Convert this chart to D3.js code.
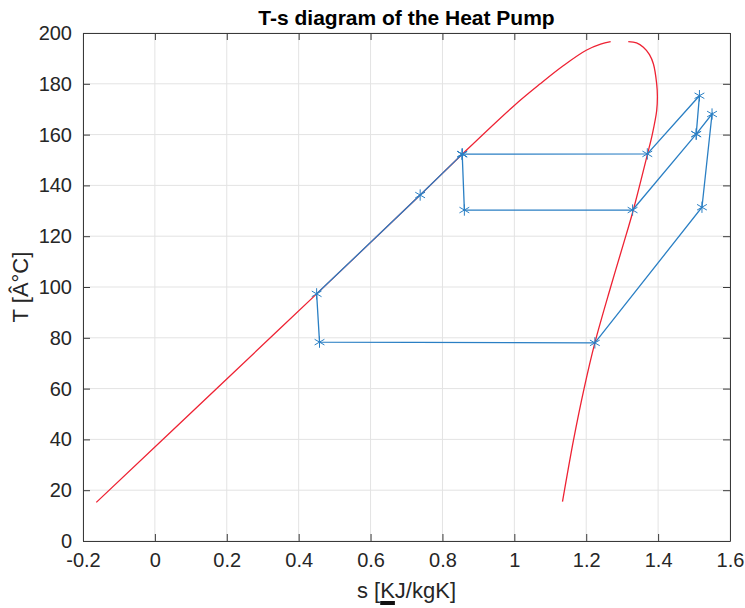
<!DOCTYPE html>
<html>
<head>
<meta charset="utf-8">
<script src="https://cdn.jsdelivr.net/npm/d3@7"></script>
<style>
body { margin: 0; background: #fff; }
text { font-family: "Liberation Sans", Arial, sans-serif; }
</style>
</head>
<body>
<div id="chart"></div>
<script>
// saturation dome, liquid side (red)
const liqS = [-0.163, 0.2, 0.45, 0.738, 0.855, 1.0, 1.072, 1.136, 1.2, 1.24, 1.268]
const liqT = [15.2, 63.8, 97.3, 136.2, 152.3, 171.5, 180, 187.1, 193.2, 195.6, 196.6]
// saturation dome, vapour side (red)
const vapS = [1.317, 1.34, 1.359, 1.376, 1.387, 1.396, 1.398, 1.396, 1.384, 1.371, 1.331, 1.311, 1.268, 1.224, 1.194, 1.165, 1.134]
const vapT = [196.6, 196.1, 194.4, 191.5, 187.8, 180, 175, 169.4, 160.2, 152.6, 130.3, 120.5, 100, 78, 60, 40, 15.5]

// heat pump states (blue)
const cycleS = [0.855, 0.738, 0.450, 0.458, 1.224, 1.522, 1.550, 1.506, 1.329, 0.861, 0.855]
const cycleT = [152.3, 136.2, 97.3, 78.3, 78.0, 131.4, 168.1, 160.2, 130.3, 130.3, 152.3]
const branchS = [1.506, 1.515, 1.370, 0.855]
const branchT = [160.2, 175.3, 152.4, 152.3]

const xTicks = [-0.2, 0, 0.2, 0.4, 0.6, 0.8, 1, 1.2, 1.4, 1.6]
const yTicks = [0, 20, 40, 60, 80, 100, 120, 140, 160, 180, 200]

const width = 745, height = 608
const margin = {top: 33, right: 15, bottom: 67, left: 83}
const w = width - margin.left - margin.right
const h = height - margin.top - margin.bottom

const svg = d3.select("#chart").append("svg")
  .attr("width", width)
  .attr("height", height)

const g = svg.append("g")
  .attr("transform", `translate(${margin.left},${margin.top})`)

const x = d3.scaleLinear().domain([-0.2, 1.6]).range([0, w])
const y = d3.scaleLinear().domain([0, 200]).range([h, 0])
const fmt = d => String(+d.toFixed(1))

// grid
g.selectAll(".gx").data(xTicks).join("line")
  .attr("x1", d => x(d)).attr("x2", d => x(d))
  .attr("y1", 0).attr("y2", h)
  .attr("stroke", "#e3e3e3")
g.selectAll(".gy").data(yTicks).join("line")
  .attr("y1", d => y(d)).attr("y2", d => y(d))
  .attr("x1", 0).attr("x2", w)
  .attr("stroke", "#e3e3e3")

// axes, ticks pointing inwards on all sides
const axStyle = sel => {
  sel.selectAll("path").attr("stroke", "#3a3a3a")
  sel.selectAll("line").attr("stroke", "#3a3a3a")
  sel.selectAll("text").attr("fill", "#262626").style("font-size", "20px")
}
g.append("g").attr("transform", `translate(0,${h})`)
  .call(d3.axisBottom(x).tickValues(xTicks).tickFormat(fmt).tickSizeInner(-7).tickSizeOuter(0).tickPadding(12))
  .call(axStyle)
g.append("g")
  .call(d3.axisLeft(y).tickValues(yTicks).tickSizeInner(-7).tickSizeOuter(0).tickPadding(11))
  .call(axStyle)
g.append("g")
  .call(d3.axisTop(x).tickValues(xTicks).tickFormat("").tickSizeInner(-7).tickSizeOuter(0))
  .call(axStyle)
g.append("g").attr("transform", `translate(${w},0)`)
  .call(d3.axisRight(y).tickValues(yTicks).tickFormat("").tickSizeInner(-7).tickSizeOuter(0))
  .call(axStyle)

// saturation dome
const curve = d3.line().x(d => x(d[0])).y(d => y(d[1])).curve(d3.curveCatmullRom.alpha(0.5))
g.append("path").datum(d3.zip(liqS, liqT))
  .attr("d", curve).attr("fill", "none").attr("stroke", "#ee2233").attr("stroke-width", 1.3)
g.append("path").datum(d3.zip(vapS, vapT))
  .attr("d", curve).attr("fill", "none").attr("stroke", "#ee2233").attr("stroke-width", 1.3)

// cycle
const seg = d3.line().x(d => x(d[0])).y(d => y(d[1]))
const blue = "#2a7fc4"
const cyc = d3.zip(cycleS, cycleT)
const br = d3.zip(branchS, branchT)
g.append("path").datum(cyc).attr("d", seg).attr("fill", "none").attr("stroke", blue).attr("stroke-width", 1.3)
g.append("path").datum(br).attr("d", seg).attr("fill", "none").attr("stroke", blue).attr("stroke-width", 1.3)

const star = d3.symbol().type(d3.symbolAsterisk).size(90)
g.selectAll(".mk").data(cyc.concat(br)).join("path")
  .attr("transform", d => `translate(${x(d[0])},${y(d[1])})`)
  .attr("d", star)
  .attr("fill", "none").attr("stroke", blue).attr("stroke-width", 1)

// title and labels
svg.append("text")
  .attr("x", margin.left + w / 2).attr("y", 25)
  .attr("text-anchor", "middle")
  .style("font-size", "21px").style("font-weight", "bold")
  .attr("fill", "#000")
  .text("T-s diagram of the Heat Pump")

const xl = svg.append("text")
  .attr("x", margin.left + w / 2).attr("y", 598)
  .attr("text-anchor", "middle")
  .style("font-size", "22px").attr("fill", "#262626")
  .text("s [KJ/kgK]")
// little dark bar under the K, as in the source image
const box = xl.node().getBBox()
const pre = xl.node().getSubStringLength(0, 3)
const kw = xl.node().getSubStringLength(3, 1)
svg.append("rect")
  .attr("x", box.x + pre).attr("y", 601)
  .attr("width", kw).attr("height", 4)
  .attr("fill", "#111")

svg.append("text")
  .attr("transform", `translate(28,${margin.top + h / 2}) rotate(-90)`)
  .attr("text-anchor", "middle")
  .style("font-size", "22px").attr("fill", "#262626")
  .text("T [Â°C]")
</script>
</body>
</html>
